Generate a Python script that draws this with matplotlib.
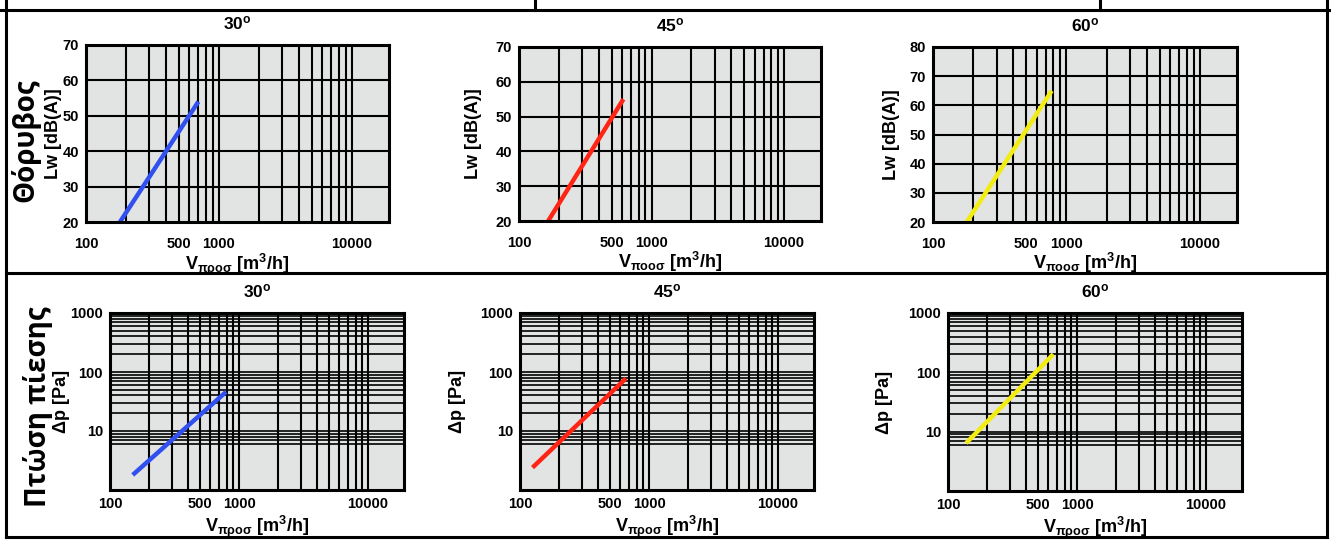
import matplotlib.pyplot as plt
from matplotlib.lines import Line2D

plt.rcParams['font.family'] = ['Liberation Sans', 'DejaVu Sans']
plt.rcParams['font.weight'] = 'bold'
plt.rcParams['axes.labelweight'] = 'bold'
plt.rcParams['axes.titleweight'] = 'bold'
plt.rcParams['mathtext.fontset'] = 'custom'
plt.rcParams['mathtext.rm'] = 'Liberation Sans:bold'
plt.rcParams['mathtext.it'] = 'Liberation Sans:bold'
plt.rcParams['mathtext.bf'] = 'Liberation Sans:bold'

W, H = 1331, 541

angles = ['30', '45', '60']
line_colors = ['#3050f0', '#ff2414', '#f2ec12']

# noise: Lw [dB(A)] against air flow, start/end of each curve
noise_flow = [[180, 700], [166, 613], [179, 776]]
noise_lw = [[20, 54], [20, 55], [20, 65]]
noise_ymax = [70, 70, 80]
noise_sub = ['προσ', 'ποοσ', 'ποοσ']

# pressure drop: dp [Pa] against air flow
dp_flow = [[150, 793], [125, 663], [138, 655]]
dp_pa = [[1.8, 46], [2.4, 78], [6.4, 202]]

x_ticks = [100, 500, 1000, 10000]
dp_ticks = [10, 100, 1000]

x_grid = [m * 10 ** e for e in (2, 3) for m in range(2, 10)] + [1000, 10000]
dp_grid = [6, 7, 8, 9, 10] + [m * 10 ** e for e in (1, 2) for m in range(2, 10)] + [100]

# axes boxes in pixels: left, top, right, bottom
top_boxes = [(86, 45, 389, 222), (519, 47, 821, 221), (933, 47, 1237, 222)]
bot_boxes = [(110, 313, 404, 490), (520, 313, 814, 490), (948, 313, 1242, 491)]
top_ylab_x = [54, 473, 892]
bot_ylab_x = [61, 458, 885]

fig = plt.figure(figsize=(W / 100, H / 100), dpi=100)
fig.patch.set_facecolor('white')


def make_axes(box, xpad):
    l, t, r, b = box
    ax = fig.add_axes([l / W, 1 - b / H, (r - l) / W, (b - t) / H])
    ax.set_facecolor('#e1e4e3')
    for s in ax.spines.values():
        s.set_linewidth(2.2)
        s.set_zorder(5)
    ax.set_xscale('log')
    ax.set_xlim(100, 19000)
    ax.set_xticks(x_ticks)
    ax.set_xticklabels([str(v) for v in x_ticks])
    ax.minorticks_off()
    ax.tick_params(length=0, labelsize=10.5, pad=5)
    ax.tick_params(axis='x', pad=xpad)
    for v in x_grid:
        ax.axvline(v, color='black', lw=1.5, zorder=1)
    return ax


def set_labels(ax, box, ylab, ylab_x, sub, title, xlpad):
    l, t, r, b = box
    ax.set_title(title + r'$^\mathrm{o}$', fontsize=12.5, fontweight='bold', pad=11)
    ax.set_xlabel(r'$\mathrm{V_{' + sub + r'}}$ [m$^\mathrm{3}$/h]', fontsize=13,
                  fontweight='bold', labelpad=xlpad)
    ax.set_ylabel(ylab, fontsize=13, fontweight='bold', va='center')
    ax.yaxis.set_label_coords((ylab_x - l) / (r - l), 0.5)


# upper row: noise
for i in range(3):
    box = top_boxes[i]
    ax = make_axes(box, 10.5)
    ax.set_ylim(20, noise_ymax[i])
    yt = list(range(20, noise_ymax[i] + 1, 10))
    ax.set_yticks(yt)
    for v in yt[1:-1]:
        ax.axhline(v, color='black', lw=1.5, zorder=1)
    ax.plot(noise_flow[i], noise_lw[i], color=line_colors[i], lw=3.2,
            solid_capstyle='butt', zorder=3)
    set_labels(ax, box, 'Lw [dB(A)]', top_ylab_x[i], noise_sub[i], angles[i], 0.5)

# lower row: pressure drop
for i in range(3):
    box = bot_boxes[i]
    ax = make_axes(box, 5)
    ax.set_yscale('log')
    ax.set_ylim(1, 1000)
    ax.set_yticks(dp_ticks)
    ax.set_yticklabels([str(v) for v in dp_ticks])
    ax.minorticks_off()
    for v in dp_grid:
        ax.axhline(v, color='black', lw=1.2, zorder=1)
    ax.plot(dp_flow[i], dp_pa[i], color=line_colors[i], lw=3.2,
            solid_capstyle='butt', zorder=3)
    set_labels(ax, box, 'Δp [Pa]', bot_ylab_x[i], 'προσ', angles[i], 2)

# side labels
fig.text(25 / W, 1 - 140 / H, 'Θόρυβος', rotation=90, fontsize=20,
         family='Open Sans', fontweight='bold', ha='center', va='center')
fig.text(38 / W, 1 - 407 / H, 'Πτώση πίεσης', rotation=90, fontsize=20,
         family='Open Sans', fontweight='bold', ha='center', va='center')


# frame lines
def frame(x0, y0, x1, y1):
    fig.add_artist(Line2D([x0 / W, x1 / W], [1 - y0 / H, 1 - y1 / H],
                          color='black', lw=2.2, transform=fig.transFigure))


frame(0, 10, W, 10)
frame(6, 0, 6, 537)
frame(1327, 0, 1327, 537)
frame(535, 0, 535, 10)
frame(1100, 0, 1100, 10)
frame(6, 273, 1327, 273)
frame(6, 537, 1327, 537)

fig.savefig('out.png', dpi=100)
